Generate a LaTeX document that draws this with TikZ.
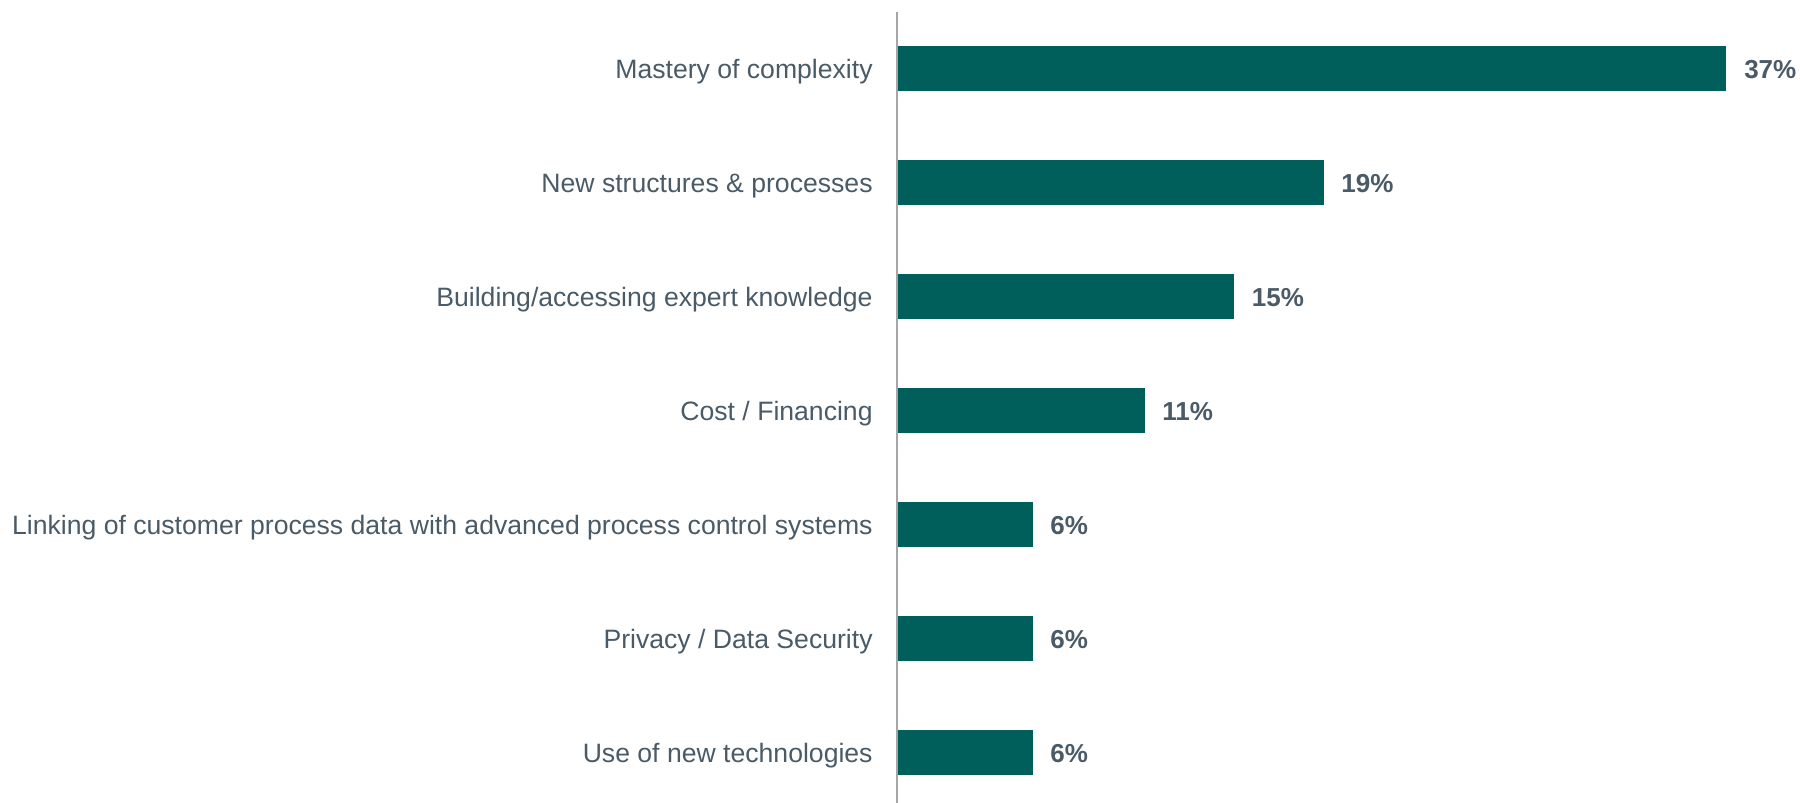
\documentclass[tikz,border=0pt]{standalone}
\usepackage{fontspec}
\setmainfont{Liberation Sans}
\usepackage{tikz}
\usetikzlibrary{positioning}
\definecolor{BarTeal}{HTML}{005E5B}
\definecolor{SlateText}{HTML}{4A5A67}
\definecolor{AxisGrey}{HTML}{A6A6A6}

\begin{document}
\begin{tikzpicture}[x=0.5pt, y=-0.5pt,
    bar/.style={fill=BarTeal, draw=none, inner sep=0pt, anchor=west,
                minimum height=22.5pt},
    catlabel/.style={text=SlateText, inner sep=0pt, text height=9.5pt,
                     text depth=0pt, font=\fontsize{13.3pt}{16pt}\selectfont},
    pctlabel/.style={text=SlateText, inner sep=0pt, text height=9.5pt,
                     text depth=0pt, font=\fontsize{13pt}{16pt}\selectfont\bfseries}]
    \useasboundingbox (0,0) rectangle (1800,803);

    % Bars with category and value labels
    \foreach \val/\txt [count=\i] in {37/{Mastery of complexity},
                                      19/{New structures \& processes},
                                      15/{Building/accessing expert knowledge},
                                      11/{Cost / Financing},
                                      6/{Linking of customer process data with advanced process control systems},
                                      6/{Privacy / Data Security},
                                      6/{Use of new technologies}} {
        \node[bar, minimum width=\val*11.19pt] (bar\i) at (898,{68.5+(\i-1)*114}) {};
        \node[catlabel, left=12.5pt of bar\i.west] (cat\i) {\txt};
        \node[pctlabel, right=8.5pt of bar\i.east] (pct\i) {\val\%};
    }

    % Axis
    \draw[AxisGrey, line width=1pt] (897,12) -- (897,803);
\end{tikzpicture}
\end{document}
